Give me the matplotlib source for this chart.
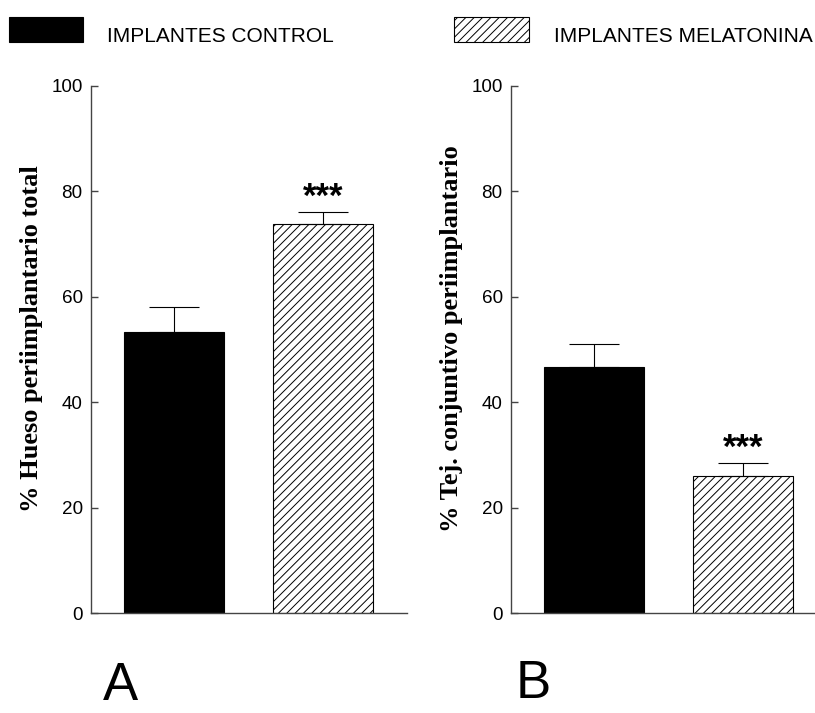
import numpy as np
import matplotlib
matplotlib.use("Agg")
import matplotlib.pyplot as plt
from matplotlib.patches import Rectangle

# ── data ────────────────────────────────────────────────────────────────────
groups      = ["IMPLANTES CONTROL", "IMPLANTES MELATONINA"]
bone_mean   = [53.4, 73.8]
bone_err    = [4.6, 2.2]
tissue_mean = [46.6, 26.1]
tissue_err  = [4.5, 2.3]
yticks      = [0, 20, 40, 60, 80, 100]
ylabels     = ["% Hueso periimplantario total",
               "% Tej. conjuntivo periimplantario"]
panel_names = ["A", "B"]

plt.rcParams["font.family"] = ["Liberation Sans", "DejaVu Sans"]
plt.rcParams["hatch.color"] = "black"
plt.rcParams["hatch.linewidth"] = 0.7

W, H = 815, 713
fig = plt.figure(figsize=(W / 100, H / 100), dpi=100)


def px_axes(left, right, top, bottom):
    return fig.add_axes([left / W, 1 - bottom / H,
                         (right - left) / W, (bottom - top) / H])


def draw_panel(ax, means, errs, ylabel):
    x = np.arange(len(means))
    ax.bar(x[0], means[0], width=0.668, color="black", edgecolor="black",
           linewidth=0.8, zorder=2)
    ax.bar(x[1], means[1], width=0.668, color="white", edgecolor="black",
           hatch="////", linewidth=0.8, zorder=2)
    ax.errorbar(x, means, yerr=[np.zeros(len(errs)), errs], fmt="none",
                ecolor="black", elinewidth=0.8, capsize=18, capthick=0.8,
                zorder=3)
    # significance mark over the melatonin bar
    ax.text(x[1], means[1] + errs[1] + 1.0, "***", ha="center",
            va="baseline", fontsize=25, fontweight="bold")

    ax.set_xlim(-0.553, 1.557)
    ax.set_ylim(0, 100)
    ax.set_yticks(yticks)
    ax.set_xticks([])
    for s in ("top", "right"):
        ax.spines[s].set_visible(False)
    for s in ("left", "bottom"):
        ax.spines[s].set_color("#444444")
        ax.spines[s].set_linewidth(1.0)
    ax.tick_params(axis="y", direction="in", length=5, width=1,
                   color="#444444", labelsize=13.6, pad=6)
    ax.set_ylabel(ylabel, fontsize=19, fontweight="bold",
                  family=["Liberation Serif", "DejaVu Serif"])
    ax.yaxis.set_label_coords(-0.152, 0.52)


ax_a = px_axes(91, 406.7, 85.7, 613.3)
draw_panel(ax_a, bone_mean, bone_err, ylabels[0])

ax_b = px_axes(511, 826.7, 85.7, 613.3)
draw_panel(ax_b, tissue_mean, tissue_err, ylabels[1])

# ── legend drawn in figure pixels ───────────────────────────────────────────
fig.patches.append(Rectangle((9 / W, 1 - 42.3 / H), 74 / W, 25 / H,
                             transform=fig.transFigure, facecolor="black",
                             edgecolor="black", linewidth=0.8))
fig.patches.append(Rectangle((454 / W, 1 - 42.3 / H), 75 / W, 25 / H,
                             transform=fig.transFigure, facecolor="white",
                             edgecolor="black", hatch="////", linewidth=0.8))
fig.text(107 / W, 1 - 41.7 / H, groups[0], fontsize=15, va="baseline")
fig.text(554 / W, 1 - 41.7 / H, groups[1], fontsize=15, va="baseline")

# ── panel letters (kept just inside the bottom edge) ────────────────────────
fig.text(120 / W, 2 / H, panel_names[0], fontsize=38, ha="center",
         va="bottom")
fig.text(533 / W, 4 / H, panel_names[1], fontsize=38, ha="center",
         va="bottom")

plt.savefig("out.png", dpi=100)
plt.close()
